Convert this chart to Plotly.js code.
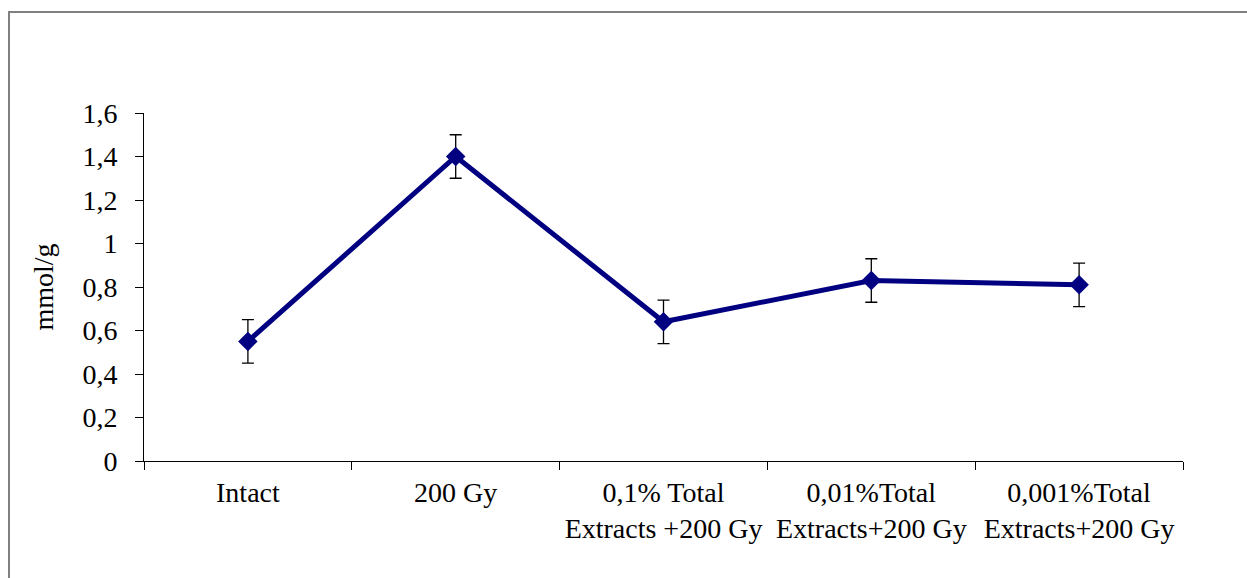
<!DOCTYPE html>
<html>
<head>
<meta charset="utf-8">
<script src="https://cdn.plot.ly/plotly-3.0.1.min.js"></script>
<style>
  html, body { margin: 0; padding: 0; background: #ffffff; }
  #frame { position: absolute; left: 8px; top: 11px; width: 1260px; height: 600px;
           border-left: 2px solid #808080; border-top: 2px solid #808080; }
  #chart { position: absolute; left: 0; top: 0; width: 1247px; height: 578px; }
</style>
</head>
<body>
<div id="frame"></div>
<div id="chart"></div>
<script>
const categories = [
  "Intact",
  "200 Gy",
  "0,1% Total<br>Extracts +200 Gy",
  "0,01%Total<br>Extracts+200 Gy",
  "0,001%Total<br>Extracts+200 Gy"
];
const values = [0.55, 1.40, 0.64, 0.83, 0.81];
const errors = [0.10, 0.10, 0.10, 0.10, 0.10];
const yTicks = [0, 0.2, 0.4, 0.6, 0.8, 1.0, 1.2, 1.4, 1.6];

const font = { family: "Liberation Serif, Times New Roman, serif", size: 28, color: "#000000" };

const trace = {
  x: categories,
  y: values,
  type: "scatter",
  mode: "lines+markers",
  line: { color: "#000080", width: 5 },
  marker: { symbol: "diamond", size: 15, color: "#000080" },
  error_y: { type: "data", array: errors, visible: true, color: "#000000", thickness: 1.3, width: 6 },
  showlegend: false,
  hoverinfo: "skip"
};

const layout = {
  width: 1247, height: 578,
  paper_bgcolor: "rgba(0,0,0,0)",
  plot_bgcolor: "rgba(0,0,0,0)",
  separators: ", ",
  font: font,
  margin: { l: 144, r: 64, t: 113, b: 117 },
  xaxis: {
    type: "category",
    range: [-0.5, 4.5],
    showline: true, linecolor: "#000000", linewidth: 1,
    ticks: "outside", ticklen: 8, tickcolor: "#000000", tickwidth: 1,
    tickson: "boundaries",
    ticklabelstandoff: 6,
    showgrid: false, zeroline: false,
    tickfont: font,
    automargin: false
  },
  yaxis: {
    range: [0, 1.6],
    tickvals: yTicks,
    ticktext: yTicks.map(v => v === 1 ? "1" : (v === 0 ? "0" : v.toFixed(1).replace(".", ","))),
    showline: true, linecolor: "#000000", linewidth: 1,
    ticks: "outside", ticklen: 8, tickcolor: "#000000", tickwidth: 1,
    ticklabelstandoff: 12,
    showgrid: false, zeroline: false,
    tickfont: font,
    title: { text: "mmol/g", font: font, standoff: 20 },
    automargin: false
  }
};

Plotly.newPlot("chart", [trace], layout, { staticPlot: true, displayModeBar: false });
</script>
</body>
</html>
